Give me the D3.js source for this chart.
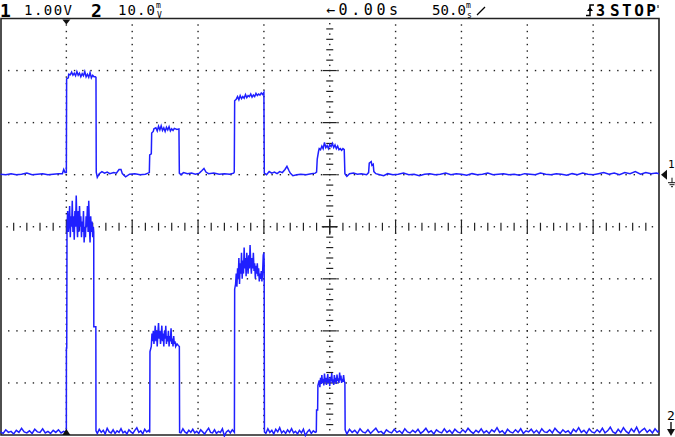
<!DOCTYPE html>
<html><head><meta charset="utf-8">
<script src="https://cdn.jsdelivr.net/npm/d3@7/dist/d3.min.js"></script>
<style>html,body{margin:0;padding:0;background:#fff;}svg{display:block;}</style>
</head><body>
<script>
// ---- data ----
const timeDomain = [-50, 450];          // ms (50 ms/div, trigger at 1st division)
const ch1Domain = [-5, 3];              // V   (1.00 V/div)
const ch2Domain = [0, 80];              // mV  (10.0 mV/div)
const headerLabels = ["1", "1.00V", "2", "10.0", "←0.00s", "50.0", "3", "STOP"];

// channel 1 trace: [time ms, volts]
const ch1Trace = [
[-50,0.01],[-46,0.0],[-42,0.02],[-38,0.0],[-34,0.01],[-30,0.03],[-26,0.0],[-22,0.01],[-18,0.02],[-14,0.0],[-10,0.01],[-6,0.02],[-3,0.02],[-2,0.1],[-1,0.04],
[0,0.04],[0.2,1.84],[1.5,1.86],[1.8,1.93],[3,1.92],[4,1.97],[5,1.91],[6,1.95],[7,1.9],[8,1.98],[9,1.91],[10,1.95],[11,1.88],[12,1.94],[13,1.9],[14,1.98],[15,1.88],[16,1.93],[17,1.87],[18,1.96],[19,1.86],[20,1.91],[21,1.88],[22,1.88],[22.5,1.87],
[22.7,0.05],[23.5,-0.05],[25,0.02],[27,0.06],[29,0.03],[31,0.05],[33,0.02],[36,0.04],[38,0.03],[40,0.1],[41.5,0.1],[42.5,0.02],[45,-0.04],[48,0.01],[52,0.02],[56,0.0],[60,0.01],[62,0.03],
[63,0.04],[63.3,0.38],[64.5,0.4],[64.8,0.8],[66,0.83],[66.5,0.88],[68,0.9],[69,0.84],[70,0.93],[71,0.86],[72,0.94],[73,0.85],[74,0.9],[75,0.83],[76,0.91],[77,0.86],[78,0.92],[79,0.84],[80,0.88],[81,0.85],[82,0.89],[84,0.87],[85.5,0.88],
[85.8,0.03],[87,0.0],[89,0.04],[92,0.02],[95,0.03],[98,0.01],[101,0.03],[103,0.08],[104.5,0.12],[106,0.05],[108,0.02],[112,0.03],[116,0.01],[120,0.02],[124,0.01],[127,0.03],
[127.5,0.05],[127.8,1.42],[129,1.45],[130,1.5],[131,1.44],[132,1.52],[133,1.46],[134,1.5],[135,1.47],[136,1.54],[137,1.48],[138,1.52],[139,1.5],[140,1.55],[141,1.49],[142,1.53],[143,1.5],[144,1.56],[145,1.52],[146,1.55],[147,1.53],[148,1.57],[149,1.54],[150,1.58],
[150.3,0.03],[152,0.0],[154,0.06],[156,0.03],[158,0.05],[160,0.02],[162,0.06],[164,0.04],[166,0.1],[167.5,0.16],[169,0.08],[170,0.03],[172,-0.02],[175,0.0],[178,0.01],[182,0.0],[186,0.02],[189,0.03],
[190,0.05],[190.5,0.3],[191.5,0.45],[192,0.5],[193,0.48],[194,0.55],[195,0.5],[196,0.62],[197,0.52],[198,0.56],[199,0.5],[200,0.58],[201,0.54],[202,0.6],[203,0.52],[204,0.57],[205,0.5],[206,0.55],[207,0.48],[208,0.5],[209,0.47],[210,0.5],[211,0.48],
[211.5,0.02],[213,-0.03],[215,0.02],[218,0.03],[221,0.01],[224,0.02],[228,0.0],[229.5,0.04],[230,0.22],[231.5,0.25],[232,0.18],[233,0.2],[233.5,0.06],[235,0.02],
[238,0.0],[241,-0.02],[244,0.02],[248,0.0],[252,0.01],[256,0.03],[260,0.0],[264,0.01],[268,-0.02],[272,0.01],[276,0.02],[280,0.0],[284,0.01],[288,0.03],[292,0.0],[296,0.02],[300,0.01],[304,-0.01],[308,0.02],[312,0.0],[316,0.01],[320,0.03],[324,0.0],[328,0.01],[332,0.02],[336,0.0],[340,0.01],[344,-0.01],[348,0.02],[352,0.01],[356,0.0],[360,0.03],[364,0.01],[368,0.0],[372,0.02],[376,0.01],[380,-0.01],[384,0.02],[388,0.0],[392,0.03],[396,0.01],[400,0.0],[404,0.02],[408,0.04],[412,0.01],[416,0.03],[420,0.0],[424,0.04],[428,0.02],[432,0.06],[436,0.01],[440,0.04],[444,0.02],[448,0.03],[450,0.02]
];

// channel 2 trace: [time ms, millivolts]
const ch2Trace = [
[-50,0.6],[-48,0.3],[-46,1.0],[-44,0.5],[-42,0.7],[-40,0.2],[-38,0.9],[-36,0.5],[-34,1.3],[-32,0.6],[-30,0.4],[-28,0.8],[-26,0.3],[-24,1.1],[-22,0.6],[-20,0.5],[-18,1.2],[-16,0.4],[-14,0.7],[-12,0.3],[-10,0.9],[-8,0.5],[-6,1.0],[-4,0.4],[-2,0.7],[-0.5,0.5],
[0,0.6],[0.05,16.7],[0.3,16.7],[0.5,40],[1,43],[1.5,39],[2,41],[2.5,44],[3,38],[3.5,42],[4,40],[4.5,45],[5,39],[5.5,42],[6,37.5],[6.5,43],[7,40],[7.5,46],[8,41],[8.5,38],[9,43],[9.5,39],[10,44],[10.5,40],[11,42],[11.5,38],[12,41],[12.5,39],[13,43],[13.5,37],[14,40],[14.5,38],[15,42],[15.5,40],[16,44],[16.5,39],[17,45],[17.5,40],[18,37],[18.5,42],[19,39],[19.5,41],[20,38],[20.5,40],[20.8,39],
[20.85,20.8],[22.4,20.8],[22.5,0.8],[23.5,0.3],[25,1.1],[26.5,0.5],[28,0.9],[29.5,0.2],[31,1.3],[32.5,0.6],[34,0.4],[35.5,1.0],[37,0.3],[38.5,0.8],[40,0.5],[41.5,1.2],[43,0.4],[44.5,0.7],[46,0.2],[47.5,1.0],[49,0.6],[50.5,0.3],[52,0.9],[53.5,1.4],[55,0.5],[56.5,0.8],[58,0.2],[59.5,1.1],[61,0.6],[62.5,0.9],
[63.3,0.5],[63.5,16],[64.5,17],[65,19.5],[65.5,18],[66,20],[66.5,17.5],[67,19],[67.5,21],[68,18],[68.5,20],[69,17],[69.5,19.5],[70,21.5],[70.5,18.5],[71,20],[71.5,17.5],[72,19],[72.5,21],[73,18],[73.5,19.5],[74,17],[74.5,20],[75,18.5],[75.5,21],[76,17.5],[76.5,19],[77,18],[77.5,20],[78,17],[78.5,19],[79,18],[79.5,20.5],[80,17.5],[80.5,18.5],[81,17],[81.5,19],[82,17.5],[82.5,18],[83,17],[84,17.5],[85,17.2],[85.8,17],
[86,0.5],[87,0.4],[88.5,1.2],[90,0.6],[91.5,0.3],[93,0.9],[94.5,0.5],[96,1.1],[97.5,0.4],[99,0.7],[100.5,0.3],[102,1.0],[103.5,0.6],[105,0.2],[106.5,0.8],[108,1.3],[109.5,0.5],[111,0.4],[112.5,1.0],[114,0.3],[115.5,0.7],[117,0.5],[118.5,1.2],[120,-0.2],[121.5,0.6],[123,0.9],[124.5,0.4],[126,1.0],[127.3,0.6],
[127.6,0.5],[127.8,28],[128.5,29],[129,31],[129.5,28.5],[130,32],[130.5,30],[131,34],[131.5,29],[132,33],[132.5,31],[133,35],[133.5,30],[134,33.5],[134.5,31],[135,36],[135.5,32],[136,34],[136.5,30.5],[137,35],[137.5,33],[138,31],[138.5,34.5],[139,32],[139.5,36.5],[140,33],[140.5,31],[141,34],[141.5,32],[142,35],[142.5,31.5],[143,33],[143.5,30],[144,32.5],[144.5,31],[145,33],[145.5,30.5],[146,32],[146.5,29.5],[147,31],[147.5,30],[148,31.5],[148.5,29.5],[149,31],[149.5,34.5],[150,35],[150.2,33],
[150.4,0.6],[151.5,0.3],[153,1.2],[154.5,0.5],[156,0.9],[157.5,0.2],[159,1.1],[160.5,0.6],[162,1.4],[163.5,0.4],[165,0.8],[166.5,0.3],[168,1.0],[169.5,0.5],[171,1.2],[172.5,0.4],[174,0.7],[175.5,0.2],[177,0.9],[178.5,0.4],[180,1.1],[181.5,-0.1],[183,0.6],[184.5,1.0],[186,0.3],[187.5,0.8],[189,0.5],
[189.8,0.6],[190,4.8],[190.8,4.8],[191,9.5],[192,10.5],[192.5,9.2],[193,11],[193.5,9.8],[194,11.5],[194.5,10],[195,10.8],[195.5,9.5],[196,11.8],[196.5,10.2],[197,11],[197.5,9.6],[198,10.5],[198.5,11.7],[199,10],[199.5,10.8],[200,9.4],[200.5,11.2],[201,10.3],[201.5,11.9],[202,10],[202.5,10.7],[203,9.6],[203.5,11.5],[204,10.2],[204.5,11],[205,9.8],[205.5,11.6],[206,10.4],[206.5,10.9],[207,10],[207.5,12],[208,10.5],[208.5,11.4],[209,10],[209.5,10.8],[210,10.2],[210.5,11.5],[211,10.4],[211.5,10],
[211.7,1.0],[213,0.2],[215,1.1],[217,0.5],[219,0.9],[221,0.3],[223,1.2],[225,0.6],[227,0.4],[229,1.0],[231,0.3],[233,0.8],[235,1.3],[237,0.5],[239,0.7],[241,0.2],[243,1.0],[245,0.6],[247,0.4],[249,1.1],[251,0.5],[253,0.8],[255,0.3],[257,1.2],[259,0.6],[261,0.4],[263,0.9],[265,0.5],[267,1.1],[269,0.3],[271,0.7],[273,1.3],[275,0.5],[277,0.8],[279,0.2],[281,1.0],[283,0.6],[285,0.4],[287,1.2],[289,0.5],[291,0.9],[293,0.3],[295,1.1],[297,0.6],[299,0.4],[301,1.0],[303,0.5],[305,1.3],[307,0.7],[309,0.3],[311,0.9],[313,0.5],[315,1.2],[317,0.4],[319,0.8],[321,0.3],[323,1.0],[325,0.6],[327,1.4],[329,0.5],[331,0.8],[333,0.2],[335,1.1],[337,0.6],[339,0.4],[341,1.0],[343,0.5],[345,1.2],[347,0.3],[349,0.8],[351,0.6],[353,1.1],[355,0.4],[357,0.9],[359,0.3],[361,1.2],[363,0.6],[365,0.5],[367,1.0],[369,0.4],[371,1.3],[373,0.7],[375,0.3],[377,1.0],[379,0.5],[381,0.8],[383,0.2],[385,1.1],[387,0.6],[389,1.4],[391,0.5],[393,0.9],[395,0.3],[397,1.2],[399,0.6],[401,0.4],[403,1.0],[405,0.5],[407,1.3],[409,0.4],[411,0.8],[413,1.5],[415,0.6],[417,0.3],[419,1.1],[421,0.5],[423,1.4],[425,0.7],[427,0.3],[429,1.2],[431,0.6],[433,1.5],[435,0.4],[437,0.9],[439,1.3],[441,0.5],[443,1.0],[445,0.4],[447,1.2],[449,0.6],[450,0.8]
];

// ---- drawing ----
const W = 675, H = 437;
const L = 0.5, R = 659, T = 18.5, B = 435;
const svg = d3.select("body").append("svg").attr("width", W).attr("height", H)
  .style("background", "#fff");

const x = d3.scaleLinear().domain(timeDomain).range([L, R]);
const y1 = d3.scaleLinear().domain(ch1Domain).range([B, T]);
const y2 = d3.scaleLinear().domain(ch2Domain).range([B, T]);
const gx = d3.scaleLinear().domain([0, 10]).range([L, R]);
const gy = d3.scaleLinear().domain([0, 8]).range([T, B]);

const grid = svg.append("g").attr("fill", "#222");
const dot = (px, py) => grid.append("rect").attr("x", px - 0.7).attr("y", py - 0.7).attr("width", 1.4).attr("height", 1.4);

// regular dotted grid lines
for (let i = 1; i < 10; i++) {
  if (i === 5) continue;
  d3.range(1, 64).forEach(k => dot(gx(i), gy(k / 8)));
}
for (let j = 1; j < 8; j++) {
  if (j === 4) continue;
  d3.range(1, 80).forEach(k => dot(gx(k / 8), gy(j)));
}
// center axes with ticks
const cx = gx(5), cy = gy(4);
const tk = svg.append("g").attr("stroke", "#222").attr("stroke-width", 1.2);
d3.range(1, 100).forEach(k => {
  const px = gx(k / 10);
  if (k % 10 === 0) tk.append("line").attr("x1", px).attr("x2", px).attr("y1", cy - 7).attr("y2", cy + 7);
  else if (k % 2 === 0) tk.append("line").attr("x1", px).attr("x2", px).attr("y1", cy - 4).attr("y2", cy + 4);
  else dot(px, cy);
});
d3.range(1, 80).forEach(k => {
  const py = gy(k / 10);
  if (k % 10 === 0) tk.append("line").attr("x1", cx - 7).attr("x2", cx + 7).attr("y1", py).attr("y2", py);
  else if (k % 2 === 0) tk.append("line").attr("x1", cx - 3.5).attr("x2", cx + 3.5).attr("y1", py).attr("y2", py);
  else dot(cx, py);
});
tk.append("line").attr("x1", cx - 8).attr("x2", cx + 8).attr("y1", cy).attr("y2", cy);
tk.append("line").attr("x1", cx).attr("x2", cx).attr("y1", cy - 8).attr("y2", cy + 8);

// border
svg.append("path")
  .attr("d", `M${L + 0.5},${T} H${R} V${B} H${L + 0.5} Z`)
  .attr("fill", "none").attr("stroke", "#222").attr("stroke-width", 1.6);

// traces
const line1 = d3.line().x(d => x(d[0])).y(d => y1(d[1]));
const line2 = d3.line().x(d => x(d[0])).y(d => y2(d[1]));
svg.append("path").attr("d", line1(ch1Trace)).attr("fill", "none")
  .attr("stroke", "#1f1fff").attr("stroke-width", 1.5).attr("stroke-linejoin", "miter");
svg.append("path").attr("d", line2(ch2Trace)).attr("fill", "none")
  .attr("stroke", "#1f1fff").attr("stroke-width", 1.5).attr("stroke-linejoin", "miter");

// trigger markers
const tx = x(0);
svg.append("path").attr("d", `M${tx - 4},${T + 1} L${tx + 4},${T + 1} L${tx},${T + 6} Z`).attr("fill", "#111");
svg.append("path").attr("d", `M${tx - 4},${B} L${tx + 4},${B} L${tx},${B - 6} Z`).attr("fill", "#111");

// right-side channel markers
const g1 = y1(0);
svg.append("path").attr("d", `M${R + 2},${g1} L${R + 8},${g1 - 5} L${R + 8},${g1 + 5} Z`).attr("fill", "#111");
const font = "DejaVu Sans Mono, monospace";
svg.append("text").attr("x", 668).attr("y", g1 - 7).attr("font-family", font).attr("font-size", 11).text("1");
svg.append("path").attr("d", `M672,${g1 + 3} V${g1 + 8} M668,${g1 + 8} H676 M669.5,${g1 + 10} H674.5 M671,${g1 + 12} H673`)
  .attr("stroke", "#111").attr("stroke-width", 1).attr("fill", "none");
svg.append("text").attr("x", 667).attr("y", 420).attr("font-family", font).attr("font-size", 13).text("2");
svg.append("path").attr("d", `M671,422 V431`).attr("stroke", "#111").attr("stroke-width", 1.4);
svg.append("path").attr("d", `M667,429 L675,429 L671,436 Z`).attr("fill", "#111");

// header
const hdr = svg.append("g").attr("font-family", font).attr("fill", "#000");
hdr.append("text").attr("x", 0).attr("y", 17).attr("font-size", 18).attr("font-weight", "bold").text(headerLabels[0]);
hdr.append("text").attr("x", 24).attr("y", 15).attr("font-size", 14).attr("textLength", 48).text(headerLabels[1]);
hdr.append("text").attr("x", 91).attr("y", 17).attr("font-size", 18).attr("font-weight", "bold").text(headerLabels[2]);
hdr.append("text").attr("x", 118).attr("y", 15).attr("font-size", 14).attr("textLength", 37).text(headerLabels[3]);
hdr.append("text").attr("x", 156).attr("y", 8).attr("font-size", 8).text("m");
hdr.append("text").attr("x", 157).attr("y", 17.5).attr("font-size", 8).text("V");
hdr.append("text").attr("x", 326).attr("y", 15).attr("font-size", 15).attr("textLength", 72).text(headerLabels[4]);
hdr.append("text").attr("x", 432).attr("y", 15).attr("font-size", 14).attr("textLength", 34).text(headerLabels[5]);
hdr.append("text").attr("x", 466).attr("y", 8).attr("font-size", 8).text("m");
hdr.append("text").attr("x", 467).attr("y", 17.5).attr("font-size", 8).text("s");
hdr.append("path").attr("d", "M477,15 L485,7").attr("stroke", "#000").attr("stroke-width", 1.3);
// trigger-edge glyph + source
hdr.append("path").attr("d", "M586,15.5 H590 V5 H594").attr("stroke", "#000").attr("stroke-width", 1.5).attr("fill", "none");
hdr.append("path").attr("d", "M587,11 L590,7 L593,11 Z").attr("fill", "#000");
hdr.append("text").attr("x", 596).attr("y", 16).attr("font-size", 15).attr("font-weight", "bold").text(headerLabels[6]);
hdr.append("text").attr("x", 610).attr("y", 16).attr("font-size", 16).attr("font-weight", "bold").attr("textLength", 46).text(headerLabels[7]);
hdr.append("path").attr("d", "M658,5 V8").attr("stroke", "#000").attr("stroke-width", 1);
</script>
</body></html>
